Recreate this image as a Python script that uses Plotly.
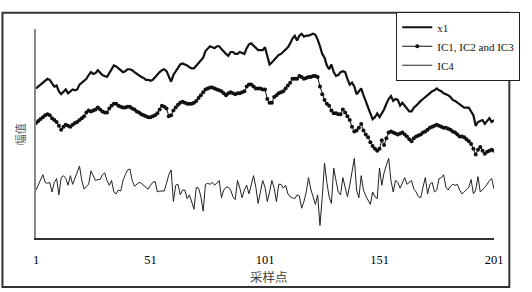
import plotly.graph_objects as go

sample = list(range(1, 202))

x1 = [156,158,161,163,165,166,165,162,158,159,153,150,153,155,151,153,155,154,155,160,
      162,164,166,170,173,171,172,175,172,170,169,168,172,176,180,179,177,175,173,174,
      176,176,175,173,171,170,168,167,165,165,164,165,168,171,173,175,176,174,168,163,
      170,174,178,181,182,181,180,178,177,177,180,183,186,188,195,197,200,199,198,200,
      200,197,194,192,190,194,194,192,192,194,193,192,198,202,203,201,199,196,196,196,
      199,190,181,183,186,188,191,192,194,196,199,203,208,211,206,211,213,210,211,211,
      212,213,212,207,200,192,188,180,176,181,173,169,170,173,174,173,166,160,162,158,
      150,153,156,149,142,136,130,124,126,130,126,130,134,140,145,148,143,145,144,138,
      141,138,135,132,132,136,138,141,143,145,147,150,151,153,154,156,154,153,151,150,
      149,147,144,143,141,140,137,136,136,136,132,128,117,121,122,123,119,122,125,121,
      123]

ic123 = [120,122,124,126,128,129,128,125,123,121,117,113,116,118,117,116,118,120,121,123,
         125,127,131,133,132,133,134,136,134,132,131,131,135,138,140,140,138,137,136,136,
         137,137,135,134,132,131,129,128,127,126,126,127,128,130,134,138,137,135,127,128,
         133,136,139,141,142,141,140,140,140,141,143,146,149,152,155,156,157,157,156,155,
         154,153,151,149,151,152,151,150,151,151,152,153,158,160,160,158,156,156,156,155,
         155,145,141,141,147,149,151,152,153,156,159,162,166,166,166,169,168,166,167,168,
         168,169,169,168,158,150,144,140,138,133,130,130,129,129,134,131,127,123,116,111,
         112,115,119,112,108,105,100,96,93,91,93,102,97,104,110,111,110,109,108,109,
         110,108,106,103,101,104,106,107,108,110,111,113,115,116,117,118,117,116,115,115,
         114,113,111,110,108,106,106,105,103,101,98,93,87,92,95,91,88,90,91,92,
         91]

ic4 = [50,56,61,66,58,57,58,48,58,62,45,63,65,62,55,65,56,62,70,75,
       60,51,54,56,70,65,60,61,61,66,68,60,55,60,48,46,50,49,60,66,
       71,72,60,54,56,58,57,55,53,51,55,58,59,48,49,49,49,57,66,71,
       38,55,56,45,50,50,41,45,38,30,53,52,43,28,56,57,56,58,55,57,
       60,42,50,53,53,50,43,40,60,52,42,50,55,46,56,65,53,36,48,60,
       53,38,48,60,52,38,56,56,52,55,46,43,42,41,45,44,31,38,48,63,
       51,42,35,45,13,43,78,58,43,36,73,60,48,45,63,53,43,55,68,83,
       50,42,65,50,44,40,35,48,43,41,73,55,68,76,83,60,48,60,58,52,
       58,63,56,58,60,51,48,43,42,53,63,46,56,58,48,50,62,63,66,53,
       50,54,56,55,56,50,46,48,50,53,61,46,50,64,48,50,53,56,60,62,
       51]

tick_vals = [1, 51, 101, 151, 201]
tick_text = ["1", "51", "101", "151", "201"]
names = ["x1", "IC1, IC2 and IC3", "IC4"]

fig = go.Figure()
fig.add_trace(go.Scatter(x=sample, y=x1, mode="lines", name=names[0],
                         line=dict(color="#111111", width=2.2)))
fig.add_trace(go.Scatter(x=sample, y=ic123, mode="lines+markers", name=names[1],
                         line=dict(color="#111111", width=1),
                         marker=dict(color="#111111", size=4, symbol="circle")))
fig.add_trace(go.Scatter(x=sample, y=ic4, mode="lines", name=names[2],
                         line=dict(color="#222222", width=1)))

serif = "Liberation Serif, Times New Roman, serif"
fig.update_layout(
    width=532, height=292,
    margin=dict(l=36, r=18, t=20, b=54),
    paper_bgcolor="white", plot_bgcolor="white",
    showlegend=True,
    legend=dict(x=(412 - 36) / 478, y=(238 - 2) / 218, xanchor="left", yanchor="top",
                bordercolor="#222222", borderwidth=1, bgcolor="white",
                font=dict(family=serif, size=11, color="#111111"),
                tracegroupgap=0),
    xaxis=dict(range=[1, 201], tickvals=tick_vals, ticktext=tick_text,
               showgrid=False, zeroline=False, showline=True,
               linecolor="#333333", linewidth=1.5, ticks="",
               ticklabelstandoff=9,
               tickfont=dict(family=serif, size=12.5, color="#000000")),
    yaxis=dict(range=[0, 218], showticklabels=False, showgrid=False, zeroline=False,
               showline=True, linecolor="#888888", linewidth=1.5, ticks=""),
    annotations=[
        dict(text="采样点", xref="paper", yref="paper", x=(279 - 36) / 478,
             y=(238 - 278) / 218, xanchor="center", yanchor="middle", showarrow=False,
             font=dict(family="Noto Sans CJK SC", size=12.5, color="#444444")),
        dict(text="幅值", xref="paper", yref="paper", x=(20 - 36) / 478,
             y=(238 - 130) / 218, xanchor="center", yanchor="middle", showarrow=False,
             textangle=-90,
             font=dict(family="Noto Sans CJK SC", size=11, color="#555555")),
    ],
    shapes=[dict(type="rect", xref="paper", yref="paper",
                 x0=(1 - 36) / 478, x1=(530 - 36) / 478,
                 y0=(238 - 289) / 218, y1=(238 - 3) / 218,
                 line=dict(color="#333333", width=2), fillcolor="rgba(0,0,0,0)")],
)

fig.write_html("out.html")
